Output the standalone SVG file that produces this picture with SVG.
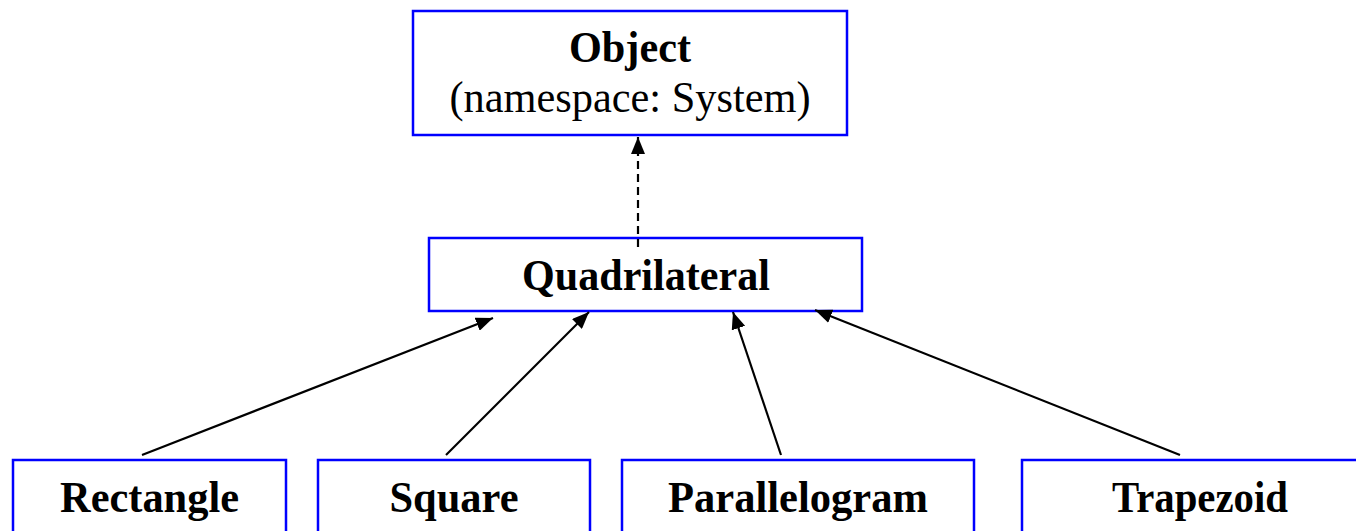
<svg xmlns="http://www.w3.org/2000/svg" width="1356" height="531" viewBox="0 0 1356 531">
<style>
.box{fill:#fff;stroke:#0000ff;stroke-width:2.5}
.t{font-family:"Liberation Serif","Times New Roman",serif;font-size:45px;fill:#000;text-anchor:middle}
.b{font-weight:bold}
.c{stroke:#000;stroke-width:2.2;fill:none;marker-end:url(#ah)}
.d{stroke-dasharray:8,5}
</style>
<defs>
<marker id="ah" markerUnits="userSpaceOnUse" markerWidth="17" markerHeight="14" viewBox="0 0 17 14" refX="17" refY="7" orient="auto">
<path d="M0,0 L17,7 L0,14 Z" fill="#000"/>
</marker>
</defs>
<g id="object">
<rect class="box" x="413" y="11" width="434" height="124"/>
<text class="t b" x="630" y="62" textLength="122" lengthAdjust="spacingAndGlyphs">Object</text>
<text class="t" x="630" y="112" textLength="361" lengthAdjust="spacingAndGlyphs">(namespace: System)</text>
</g>
<g id="quadrilateral">
<rect class="box" x="429" y="238" width="433" height="73"/>
<text class="t b" x="646" y="290" textLength="248" lengthAdjust="spacingAndGlyphs">Quadrilateral</text>
</g>
<g id="rectangle">
<rect class="box" x="13" y="460" width="273" height="90"/>
<text class="t b" x="149.5" y="512" textLength="179" lengthAdjust="spacingAndGlyphs">Rectangle</text>
</g>
<g id="square">
<rect class="box" x="318" y="460" width="272" height="90"/>
<text class="t b" x="454" y="512" textLength="129" lengthAdjust="spacingAndGlyphs">Square</text>
</g>
<g id="parallelogram">
<rect class="box" x="622" y="460" width="352" height="90"/>
<text class="t b" x="798" y="512" textLength="260" lengthAdjust="spacingAndGlyphs">Parallelogram</text>
</g>
<g id="trapezoid">
<rect class="box" x="1022" y="460" width="356" height="90"/>
<text class="t b" x="1200" y="512" textLength="176" lengthAdjust="spacingAndGlyphs">Trapezoid</text>
</g>
<g id="connectors">
<line class="c d" x1="638" y1="247" x2="638" y2="137"/>
<line class="c" x1="142" y1="455" x2="493" y2="318"/>
<line class="c" x1="446" y1="455" x2="589" y2="312"/>
<line class="c" x1="781" y1="455" x2="733" y2="312"/>
<line class="c" x1="1180" y1="455" x2="815" y2="310"/>
</g>
</svg>
